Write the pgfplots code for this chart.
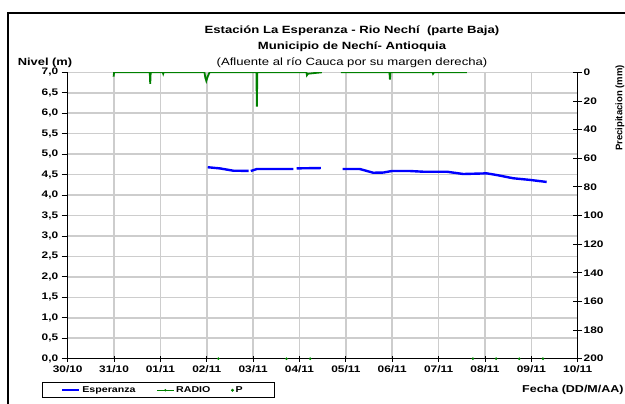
\documentclass[border=0pt]{standalone}
\usepackage{pgfplots}
\pgfplotsset{compat=1.18}
\usepackage{fontspec}
\setmainfont{Liberation Sans}[FakeStretch=1.25]
\newfontfamily\plainfont{Liberation Sans}
\definecolor{radio}{RGB}{0,128,0}
\definecolor{gridc}{RGB}{205,205,205}

\pgfplotstableread{
x y
3.02 4.68
3.29 4.65
3.57 4.595
3.90 4.59
nan nan
3.95 4.587
4.08 4.636
4.87 4.636
nan nan
4.94 4.652
5.46 4.66
nan nan
5.93 4.636
6.30 4.636
6.59 4.545
6.81 4.55
6.99 4.587
7.38 4.587
7.67 4.57
8.18 4.57
8.53 4.514
9.04 4.53
9.25 4.49
9.61 4.41
9.97 4.37
10.33 4.32
}\esperanza

\pgfplotstableread{
x y
0.99 3
1.00 0
1.30 0
1.60 0
1.77 0
1.78 8
1.79 0
2.05 0
2.06 1
2.07 0
2.40 0
2.70 0
2.95 0
2.97 4
2.99 6
3.02 3
3.06 0
3.50 0
4.07 0
4.08 24
4.09 0
4.60 0
5.15 0
5.16 2
5.18 1
5.48 0
nan nan
5.89 0
6.40 0
6.94 0
6.95 5
6.96 0
7.40 0
7.87 0
7.88 1
7.90 0
8.30 0
8.61 0
}\radio

\pgfplotstableread{
x y
3.25 0
4.72 0
5.23 0
8.74 0
9.24 0
9.74 0
10.25 0
}\precip

\begin{document}
\begin{tikzpicture}[x=1pt,y=1pt]
\useasboundingbox (0,0) rectangle (625,404);
\draw[line width=2pt] (8,-10) -- (8,391.2) -- (640,391.2);

\begin{axis}[
  at={(67.7pt,45.3pt)}, anchor=south west,
  scale only axis, width=510pt, height=286.4pt,
  xmin=0, xmax=11, ymin=0, ymax=7,
  axis x line*=bottom, axis y line*=left,
  axis line style={line width=0.8pt, -},
  xtick={0,...,11},
  xticklabels={30/10,31/10,01/11,02/11,03/11,04/11,05/11,06/11,07/11,08/11,09/11,10/11},
  ytick={0,0.5,1,1.5,2,2.5,3,3.5,4,4.5,5,5.5,6,6.5,7},
  grid=major,
  major grid style={gridc, line width=1.5pt},
  tick align=outside,
  major tick length=6pt,
  tick style={black, line width=0.8pt},
  x tick style={yshift=3pt},
  /pgf/number format/assume math mode=true,
  yticklabel style={font=\bfseries\fontsize{9.5}{10}\selectfont, /pgf/number format/.cd, fixed, fixed zerofill, precision=1, use comma},
  xticklabel style={font=\bfseries\fontsize{9.5}{10}\selectfont, yshift=2.5pt},
  unbounded coords=jump,
  legend style={at={(-0.0504,-0.0825)}, anchor=north west, draw=black, line width=0.8pt,
    font=\bfseries\fontsize{8.5}{10}\selectfont, legend columns=3,
    inner ysep=1.8pt, inner xsep=18.5pt,
    /tikz/every even column/.append style={column sep=19pt}},
  legend cell align=left,
]
\addplot[blue, line width=2.4pt] table[x=x,y=y] {\esperanza};
\addlegendentry{Esperanza}
\addlegendimage{radio, line width=0.6pt, mark=*, mark size=0.9pt}
\addlegendentry{RADIO}
\addplot[only marks, mark=*, mark size=1.1pt, radio] table[x=x,y=y] {\precip};
\addlegendentry{\makebox[18pt][l]{P}}
\end{axis}

\begin{axis}[
  at={(67.7pt,45.3pt)}, anchor=south west,
  scale only axis, width=510pt, height=286.4pt,
  xmin=0, xmax=11, ymin=0, ymax=200, y dir=reverse,
  axis x line=none, axis y line*=right,
  axis line style={line width=0.8pt, -},
  ytick={0,20,...,200},
  tick align=center,
  major tick length=9pt,
  tick style={black, line width=0.8pt},
  /pgf/number format/assume math mode=true,
  yticklabel style={font=\bfseries\fontsize{9.5}{10}\selectfont, anchor=west, xshift=-2pt},
  unbounded coords=jump,
]
\addplot[radio, line width=1.8pt] table[x=x,y=y] {\radio};
\end{axis}

\node[font=\bfseries\fontsize{10.5}{12}\selectfont] at (352,373) {Estación La Esperanza - Rio Nechí\ \ (parte Baja)};
\node[font=\bfseries\fontsize{10.5}{12}\selectfont] at (352,357) {Municipio de Nechí- Antioquia};
\node[font=\fontsize{10.5}{12}\selectfont] at (352,341) {(Afluente al río Cauca por su margen derecha)};
\node[font=\bfseries\fontsize{10.3}{12}\selectfont] at (45,341) {Nivel (m)};
\node[font=\bfseries\fontsize{10}{12}\selectfont, anchor=west, inner sep=1pt] at (521,14) {Fecha (DD/M/AA)};
\node[font=\plainfont\bfseries\fontsize{9.5}{10}\selectfont, rotate=90] at (620,296) {Precipitacion (mm)};
\end{tikzpicture}
\end{document}
